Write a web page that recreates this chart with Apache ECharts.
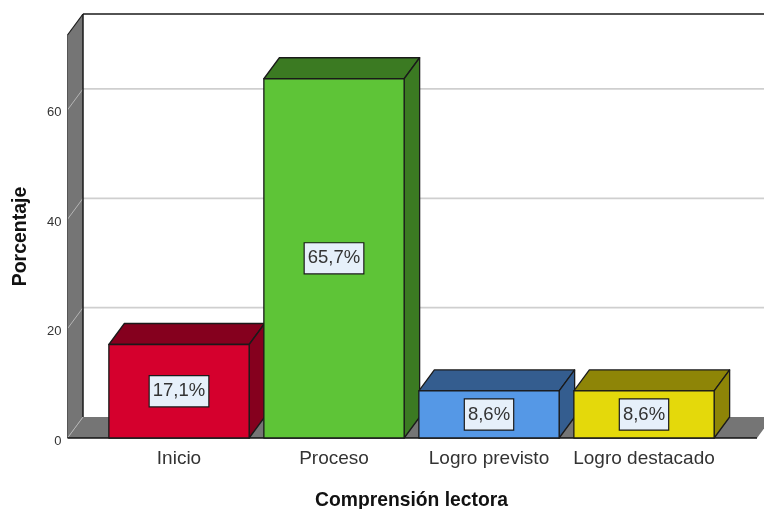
<!DOCTYPE html>
<html><head><meta charset="utf-8">
<style>html,body{margin:0;padding:0;background:#fff}#c{width:764px;height:509px}</style>
<script src="https://cdn.jsdelivr.net/npm/echarts@6/dist/echarts.min.js"></script>
</head><body><div id="c"></div>
<script>
const categories = ['Inicio', 'Proceso', 'Logro previsto', 'Logro destacado'];
const percentages = [17.1, 65.7, 8.6, 8.6];
const percentLabels = ['17,1%', '65,7%', '8,6%', '8,6%'];
const yTicks = [0, 20, 40, 60];
const frontColors = ['#D5002D', '#5EC437', '#5598E6', '#E4D90B'];
const sideColors = ['#85001E', '#3B7A22', '#345D8F', '#8E8507'];
const FONT = '"Liberation Sans", Arial, sans-serif';
const DX = 15.5, DY = 21, WALL = '#757575', EDGE = '#1a1a1a';

const chart = echarts.init(document.getElementById('c'));

function backdrop(params, api) {
  const r = params.coordSys;
  const L = r.x - 34, R = r.x + r.width + 35.5, B = r.y + r.height, T = r.y;
  const kids = [];
  const poly = (points, fill) => ({type: 'polygon', shape: {points}, style: {fill, stroke: 'none'}});
  const line = (a, b, stroke, lineWidth) => ({type: 'line', shape: {x1: a[0], y1: a[1], x2: b[0], y2: b[1]}, style: {stroke, lineWidth}});
  kids.push(poly([[L, B], [L + DX, B - DY], [L + DX, T - DY], [L, T]], WALL));
  kids.push(poly([[L, B], [L + DX, B - DY], [R + DX, B - DY], [R, B]], WALL));
  yTicks.forEach(t => {
    const y = api.coord([0, t])[1];
    if (t > 0) kids.push(line([L + DX, y - DY], [R + DX, y - DY], '#cfcfcf', 1.8));
    kids.push(line([L, y], [L + DX, y - DY], '#b5b5b5', 1));
  });
  kids.push(line([L + DX, B - DY], [L + DX, T - DY], EDGE, 1.5));
  kids.push(line([L, T], [L + DX, T - DY], EDGE, 1.2));
  kids.push(line([L, T], [L, B], '#555', 1));
  kids.push(line([L + DX, T - DY], [R + DX, T - DY], EDGE, 1.5));
  kids.push(line([L, B], [R, B], '#111', 1.6));
  return {type: 'group', children: kids};
}

function bar(params, api) {
  const i = api.value(0), v = api.value(1);
  const base = api.coord([i, 0]), top = api.coord([i, v]);
  const w = api.size([1, 0])[0] * 0.905;
  const x0 = base[0] - w / 2, x1 = base[0] + w / 2, yb = base[1], yt = top[1];
  const style = fill => ({fill, stroke: EDGE, lineWidth: 1.3, lineJoin: 'round'});
  return {type: 'group', children: [
    {type: 'polygon', shape: {points: [[x0, yt], [x0 + DX, yt - DY], [x1 + DX, yt - DY], [x1, yt]]}, style: style(sideColors[i])},
    {type: 'polygon', shape: {points: [[x1, yb], [x1 + DX, yb - DY], [x1 + DX, yt - DY], [x1, yt]]}, style: style(sideColors[i])},
    {type: 'rect', shape: {x: x0, y: yt, width: x1 - x0, height: yb - yt}, style: style(frontColors[i])},
    {type: 'text', x: base[0], y: (yt + yb) / 2, z2: 10, style: {
      text: percentLabels[i], align: 'center', verticalAlign: 'middle',
      font: '18.5px ' + FONT, fill: '#333', backgroundColor: '#E6F0FA',
      borderColor: '#1a1a1a', borderWidth: 1.2, padding: [6, 3, 5, 3]
    }}
  ]};
}

chart.setOption({
  animation: false,
  backgroundColor: '#fff',
  grid: {left: 101.5, width: 620, top: 35, height: 403, containLabel: false, outerBoundsMode: 'none'},
  xAxis: {
    type: 'category', data: categories,
    name: 'Comprensión lectora', nameLocation: 'middle', nameGap: 53,
    nameTextStyle: {fontFamily: FONT, fontSize: 19.3, fontWeight: 'bold', color: '#111'},
    axisLine: {show: false}, axisTick: {show: false},
    axisLabel: {fontFamily: FONT, fontSize: 19, color: '#333', margin: 11, interval: 0}
  },
  yAxis: {
    type: 'value', min: 0, max: 73.7, interval: 20, offset: 34,
    name: 'Porcentaje', nameLocation: 'middle', nameGap: 37, nameRotate: 90,
    nameTextStyle: {fontFamily: FONT, fontSize: 19.5, fontWeight: 'bold', color: '#111'},
    axisLine: {show: false}, axisTick: {show: false}, splitLine: {show: false},
    axisLabel: {fontFamily: FONT, fontSize: 13, color: '#333', margin: 6, showMaxLabel: false, verticalAlign: 'top', lineHeight: 6}
  },
  series: [
    {type: 'custom', renderItem: backdrop, data: [[0, 0]], encode: {x: 0, y: 1}, z: 1, silent: true},
    {type: 'custom', renderItem: bar, data: percentages.map((v, i) => [i, v]), encode: {x: 0, y: 1}, z: 2}
  ]
});
</script></body></html>
